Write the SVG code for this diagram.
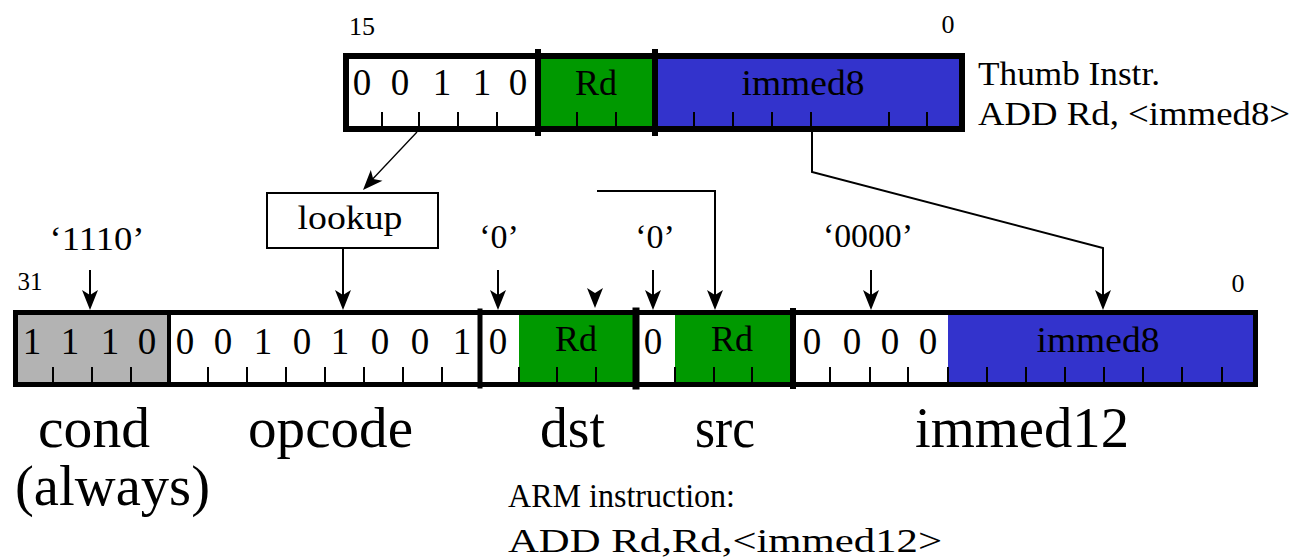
<svg xmlns="http://www.w3.org/2000/svg" xmlns:xlink="http://www.w3.org/1999/xlink" width="1296" height="559" viewBox="0 0 1296 559">
<style>
text{font-family:"Liberation Serif","Times New Roman",serif;fill:#000}
.bit{font-size:37px;text-anchor:middle}
.fld{font-size:35px;text-anchor:middle}
.num{font-size:26px;text-anchor:middle}
.q{font-size:34px;text-anchor:middle}
.big{font-size:57px}
.cap{font-size:34px}
.tick{stroke:#000;stroke-width:2}
.div{stroke:#000;stroke-linecap:square}
.frame{fill:none;stroke:#000}
.wire{fill:none;stroke:#000;stroke-width:2}
.thin{fill:none;stroke:#000;stroke-width:1.3}
.gray{fill:#b3b3b3}
.white{fill:#fff}
.green{fill:#009900}
.blue{fill:#3333cc}
</style>
<defs>
<path id="ah" d="M0,0 L-8,-20 L0,-15 L8,-20 Z" fill="#000"/>
</defs>
<rect width="1296" height="559" fill="#fff"/>

<g id="thumb">
<rect class="white" x="343" y="53" width="195" height="79"/>
<rect class="green" x="538" y="53" width="117" height="79"/>
<rect class="blue" x="655" y="53" width="310" height="79"/>
<g class="tick">
<line x1="382" y1="112" x2="382" y2="127"/><line x1="419" y1="112" x2="419" y2="127"/><line x1="458" y1="112" x2="458" y2="127"/><line x1="497" y1="112" x2="497" y2="127"/>
<line x1="577" y1="112" x2="577" y2="127"/><line x1="616" y1="112" x2="616" y2="127"/>
<line x1="694" y1="112" x2="694" y2="127"/><line x1="733" y1="112" x2="733" y2="127"/><line x1="772" y1="112" x2="772" y2="127"/><line x1="811" y1="112" x2="811" y2="127"/><line x1="889" y1="112" x2="889" y2="127"/><line x1="927" y1="112" x2="927" y2="127"/>
</g>
<rect class="frame" x="346" y="56" width="616" height="73" stroke-width="6"/>
<line class="div" x1="538" y1="52" x2="538" y2="133" stroke-width="6"/>
<line class="div" x1="655" y1="52" x2="655" y2="133" stroke-width="6"/>
<text class="bit" x="362" y="95">0</text><text class="bit" x="400" y="95">0</text><text class="bit" x="442" y="95">1</text><text class="bit" x="482" y="95">1</text><text class="bit" x="518" y="95">0</text>
<text class="fld" x="596" y="95" textLength="42" lengthAdjust="spacingAndGlyphs">Rd</text>
<text class="fld" x="803" y="95" textLength="123" lengthAdjust="spacingAndGlyphs">immed8</text>
<text class="num" x="362" y="35">15</text>
<text class="num" x="948" y="33">0</text>
<text class="cap" x="978" y="85" textLength="182" lengthAdjust="spacingAndGlyphs">Thumb Instr.</text>
<text class="cap" x="978" y="125" textLength="312" lengthAdjust="spacingAndGlyphs">ADD Rd, &lt;immed8&gt;</text>
</g>

<g id="lookup">
<rect x="267" y="193" width="171" height="55" fill="#fff" stroke="#000" stroke-width="2"/>
<text class="cap" x="350" y="229" text-anchor="middle" font-size="32" textLength="105" lengthAdjust="spacingAndGlyphs">lookup</text>
</g>

<g id="arm">
<rect class="gray" x="13" y="310" width="156" height="77"/>
<rect class="white" x="169" y="310" width="312" height="77"/>
<rect class="white" x="481" y="310" width="38" height="77"/>
<rect class="green" x="519" y="310" width="117" height="77"/>
<rect class="white" x="636" y="310" width="39" height="77"/>
<rect class="green" x="675" y="310" width="117" height="77"/>
<rect class="white" x="792" y="310" width="156" height="77"/>
<rect class="blue" x="948" y="310" width="310" height="77"/>
<g class="tick">
<line x1="53" y1="367" x2="53" y2="384"/><line x1="92" y1="367" x2="92" y2="384"/><line x1="131" y1="367" x2="131" y2="384"/>
<line x1="208" y1="367" x2="208" y2="384"/><line x1="247" y1="367" x2="247" y2="384"/><line x1="286" y1="367" x2="286" y2="384"/><line x1="325" y1="367" x2="325" y2="384"/><line x1="364" y1="367" x2="364" y2="384"/><line x1="403" y1="367" x2="403" y2="384"/><line x1="442" y1="367" x2="442" y2="384"/>
<line x1="519" y1="367" x2="519" y2="384"/><line x1="557" y1="367" x2="557" y2="384"/><line x1="596" y1="367" x2="596" y2="384"/>
<line x1="675" y1="367" x2="675" y2="384"/><line x1="714" y1="367" x2="714" y2="384"/><line x1="752" y1="367" x2="752" y2="384"/>
<line x1="830" y1="367" x2="830" y2="384"/><line x1="870" y1="367" x2="870" y2="384"/><line x1="908" y1="367" x2="908" y2="384"/><line x1="948" y1="367" x2="948" y2="384"/>
<line x1="987" y1="367" x2="987" y2="384"/><line x1="1026" y1="367" x2="1026" y2="384"/><line x1="1065" y1="367" x2="1065" y2="384"/><line x1="1104" y1="367" x2="1104" y2="384"/><line x1="1143" y1="367" x2="1143" y2="384"/><line x1="1182" y1="367" x2="1182" y2="384"/><line x1="1222" y1="367" x2="1222" y2="384"/>
</g>
<rect class="frame" x="15.5" y="312.5" width="1240" height="72" stroke-width="5"/>
<line class="div" x1="169" y1="312" x2="169" y2="385" stroke-width="4"/>
<line class="div" x1="480" y1="311" x2="480" y2="386" stroke-width="5"/>
<line class="div" x1="636" y1="311" x2="636" y2="386" stroke-width="7"/>
<line class="div" x1="793" y1="311" x2="793" y2="386" stroke-width="6"/>
<text class="bit" x="32" y="354">1</text><text class="bit" x="70" y="354">1</text><text class="bit" x="110" y="354">1</text><text class="bit" x="147" y="354">0</text>
<text class="bit" x="185" y="354">0</text><text class="bit" x="223" y="354">0</text><text class="bit" x="263" y="354">1</text><text class="bit" x="302" y="354">0</text><text class="bit" x="340" y="354">1</text><text class="bit" x="380" y="354">0</text><text class="bit" x="420" y="354">0</text><text class="bit" x="462" y="354">1</text>
<text class="bit" x="498" y="354">0</text>
<text class="fld" x="576" y="351" textLength="42" lengthAdjust="spacingAndGlyphs">Rd</text>
<text class="bit" x="653" y="354">0</text>
<text class="fld" x="732" y="351" textLength="42" lengthAdjust="spacingAndGlyphs">Rd</text>
<text class="bit" x="812" y="354">0</text><text class="bit" x="852" y="354">0</text><text class="bit" x="890" y="354">0</text><text class="bit" x="928" y="354">0</text>
<text class="fld" x="1098" y="352" textLength="123" lengthAdjust="spacingAndGlyphs">immed8</text>
<text x="30" y="290" font-family="Liberation Sans, Arial, sans-serif" font-size="25" text-anchor="middle">31</text>
<text class="num" x="1238" y="292">0</text>
</g>

<g id="constants">
<text class="q" x="97" y="250" textLength="95" lengthAdjust="spacingAndGlyphs">‘1110’</text>
<text class="q" x="499" y="248">‘0’</text>
<text class="q" x="655" y="248">‘0’</text>
<text class="q" x="868" y="247" textLength="90" lengthAdjust="spacingAndGlyphs">‘0000’</text>
</g>

<g id="labels">
<text class="big" x="38" y="447" textLength="112" lengthAdjust="spacingAndGlyphs">cond</text>
<text class="big" x="15" y="505" textLength="195" lengthAdjust="spacingAndGlyphs">(always)</text>
<text class="big" x="248" y="447" textLength="165" lengthAdjust="spacingAndGlyphs">opcode</text>
<text class="big" x="540" y="447" textLength="65" lengthAdjust="spacingAndGlyphs">dst</text>
<text class="big" x="695" y="447" textLength="60" lengthAdjust="spacingAndGlyphs">src</text>
<text class="big" x="915" y="447" textLength="214" lengthAdjust="spacingAndGlyphs">immed12</text>
<text class="cap" x="508" y="507" textLength="227" lengthAdjust="spacingAndGlyphs">ARM instruction:</text>
<text class="cap" x="508" y="552" textLength="434" lengthAdjust="spacingAndGlyphs">ADD Rd,Rd,&lt;immed12&gt;</text>
</g>

<g id="connectors">
<line class="thin" x1="417" y1="132" x2="368" y2="184"/>
<use xlink:href="#ah" transform="translate(363,190) rotate(43)"/>
<line class="wire" x1="343" y1="248" x2="343" y2="296"/>
<use xlink:href="#ah" x="343" y="310"/>
<line class="wire" x1="90" y1="270" x2="90" y2="296"/>
<use xlink:href="#ah" x="90" y="310"/>
<line class="wire" x1="498" y1="270" x2="498" y2="296"/>
<use xlink:href="#ah" x="498" y="310"/>
<use xlink:href="#ah" x="595" y="308"/>
<line class="wire" x1="653" y1="270" x2="653" y2="296"/>
<use xlink:href="#ah" x="653" y="310"/>
<polyline class="wire" points="597,191 715,191 715,296"/>
<use xlink:href="#ah" x="715" y="310"/>
<line class="wire" x1="871" y1="270" x2="871" y2="296"/>
<use xlink:href="#ah" x="871" y="310"/>
<polyline class="wire" points="812,128 812,172 1103,248 1103,296"/>
<use xlink:href="#ah" x="1103" y="310"/>
</g>
</svg>
